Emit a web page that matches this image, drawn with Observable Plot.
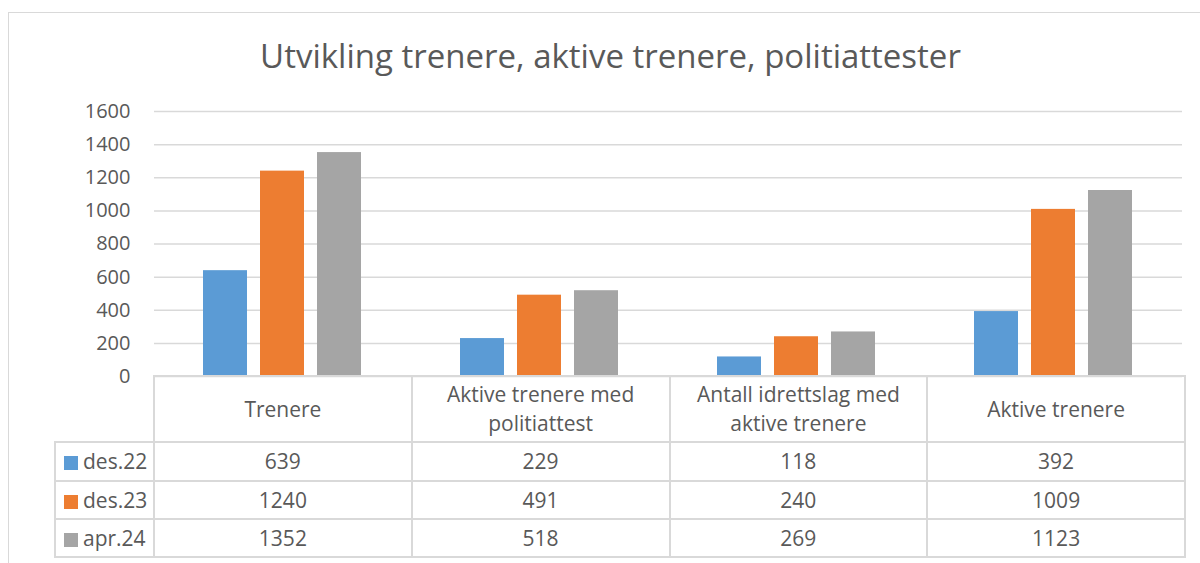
<!DOCTYPE html>
<html>
<head>
<meta charset="utf-8">
<script src="https://cdn.jsdelivr.net/npm/d3@7"></script>
<script src="https://cdn.jsdelivr.net/npm/@observablehq/plot@0.6"></script>
<style>
  body { margin: 0; overflow: hidden; background: #fff; }
  #wrap { position: relative; width: 1200px; height: 563px; background: #fff; overflow: hidden;
          font-family: "Open Sans", sans-serif; color: #595959; }
  #frame { position: absolute; left: 8px; top: 12px; width: 1300px; height: 700px; border: 1.5px solid #d9d9d9; }
  #title { position: absolute; left: 0; width: 1221px; top: 36px; text-align: center; font-size: 33px; line-height: 40px; white-space: nowrap; }
  #chart { position: absolute; left: 0; top: 0; }
  #tbl { position: absolute; left: 54px; top: 375px; border-collapse: collapse; table-layout: fixed; width: 1130px; font-size: 21px; }
  #tbl td { border: 2px solid #d9d9d9; text-align: center; padding: 0 6px; line-height: 29px; }
  #tbl td.blank { border-top: none; border-left: none; }
  #tbl td.leg { text-align: left; padding-left: 8px; white-space: nowrap; }
  .sw { display: inline-block; width: 14px; height: 14px; margin-right: 5px; vertical-align: -1px; }
</style>
</head>
<body>
<div id="wrap">
  <div id="frame"></div>
  <div id="title"></div>
  <div id="chart"></div>
  <table id="tbl"></table>
</div>
<script>
const title = "Utvikling trenere, aktive trenere, politiattester";
const categories = ["Trenere", "Aktive trenere med politiattest", "Antall idrettslag med aktive trenere", "Aktive trenere"];
const series = ["des.22", "des.23", "apr.24"];
const des22 = [639, 229, 118, 392];
const des23 = [1240, 491, 240, 1009];
const apr24 = [1352, 518, 269, 1123];
const colors = ["#5B9BD5", "#ED7D31", "#A5A5A5"];
const yTicks = [0, 200, 400, 600, 800, 1000, 1200, 1400, 1600];

const valuesBySeries = [des22, des23, apr24];
const data = [];
categories.forEach((c, i) => {
  series.forEach((s, j) => data.push({category: c, series: s, value: valuesBySeries[j][i]}));
});

document.getElementById("title").textContent = title;

const chart = Plot.plot({
  width: 1200,
  height: 400,
  marginLeft: 153,
  marginRight: 17,
  marginTop: 111,
  marginBottom: 24,
  style: {fontFamily: "Open Sans, sans-serif", fontSize: "20px", color: "#595959", background: "transparent"},
  fx: {domain: categories, padding: 0, axis: null},
  x: {domain: series, paddingInner: 0.22, paddingOuter: 0.85, axis: null},
  y: {domain: [0, 1600]},
  color: {domain: series, range: colors},
  marks: [
    Plot.gridY(yTicks, {stroke: "#d9d9d9", strokeOpacity: 1, strokeWidth: 1.5}),
    Plot.axisY(yTicks, {tickSize: 0, tickPadding: 24, label: null, fill: "#595959", tickFormat: d => String(d)}),
    Plot.barY(data, {fx: "category", x: "series", y: "value", fill: "series"})
  ]
});
document.getElementById("chart").appendChild(chart);

// data table below the plot
const tbl = document.getElementById("tbl");
const colgroup = document.createElement("colgroup");
[99, ...categories.map(() => 257.75)].forEach(w => {
  const col = document.createElement("col"); col.style.width = w + "px"; colgroup.appendChild(col);
});
tbl.appendChild(colgroup);
const head = document.createElement("tr");
head.style.height = "66px";
const blank = document.createElement("td"); blank.className = "blank"; head.appendChild(blank);
categories.forEach(c => { const td = document.createElement("td"); td.textContent = c; head.appendChild(td); });
tbl.appendChild(head);
const rowHeights = [39, 38, 38];
series.forEach((s, j) => {
  const tr = document.createElement("tr");
  tr.style.height = rowHeights[j] + "px";
  const lg = document.createElement("td"); lg.className = "leg";
  const sw = document.createElement("span"); sw.className = "sw"; sw.style.background = colors[j];
  lg.appendChild(sw); lg.appendChild(document.createTextNode(s));
  tr.appendChild(lg);
  valuesBySeries[j].forEach(v => { const td = document.createElement("td"); td.textContent = v; tr.appendChild(td); });
  tbl.appendChild(tr);
});
</script>
</body>
</html>
